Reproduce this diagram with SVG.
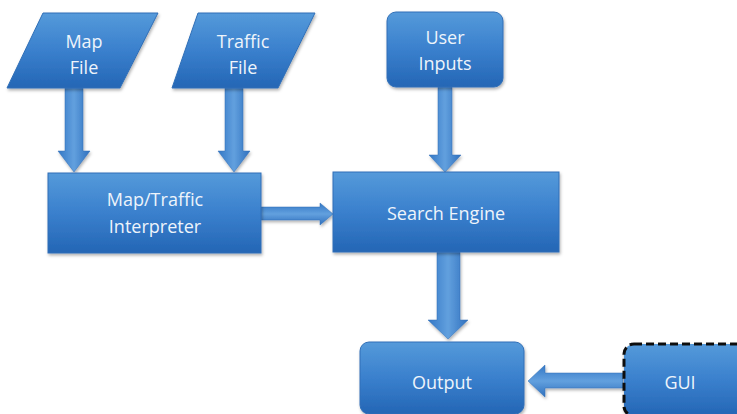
<svg xmlns="http://www.w3.org/2000/svg" width="737" height="414" viewBox="0 0 737 414">
<defs>
<linearGradient id="nodeFill" x1="0" y1="0" x2="0" y2="1">
<stop offset="0" stop-color="#559ada"/>
<stop offset="0.5" stop-color="#3a80cd"/>
<stop offset="1" stop-color="#2466b5"/>
</linearGradient>
<linearGradient id="vArrow" x1="0" y1="0" x2="1" y2="0">
<stop offset="0" stop-color="#3478c6"/>
<stop offset="0.5" stop-color="#62a0de"/>
<stop offset="1" stop-color="#2f70be"/>
</linearGradient>
<linearGradient id="hArrow" x1="0" y1="0" x2="0" y2="1">
<stop offset="0" stop-color="#3478c6"/>
<stop offset="0.5" stop-color="#62a0de"/>
<stop offset="1" stop-color="#2f70be"/>
</linearGradient>
<filter id="shadow" x="-10%" y="-10%" width="125%" height="130%">
<feDropShadow dx="1" dy="2" stdDeviation="1.5" flood-color="#000" flood-opacity="0.3"/>
</filter>
</defs>
<style>
.node{fill:url(#nodeFill);stroke:#306fb7;stroke-width:1;filter:url(#shadow)}
.dashed{fill:url(#nodeFill);stroke:#111;stroke-width:3;stroke-dasharray:8 4;filter:url(#shadow)}
.lbl{font-family:"Open Sans","Liberation Sans",sans-serif;font-size:18px;fill:#eef4fb;text-anchor:middle}
.va{fill:url(#vArrow);stroke:#306fb7;stroke-width:0.5;filter:url(#shadow)}
.ha{fill:url(#hArrow);stroke:#306fb7;stroke-width:0.5;filter:url(#shadow)}
</style>
<rect width="737" height="414" fill="#ffffff"/>
<g id="connectors">
<path class="va" d="M65,88 H83 V151 H90 L74,172 L58,151 H65 Z"/>
<path class="va" d="M225,88 H243 V151 H250 L234,172 L218,151 H225 Z"/>
<path class="va" d="M438,87 H452 V155 H461 L445,172 L429,155 H438 Z"/>
<path class="ha" d="M261,207 H320 V203 L333,214 L320,225 V220 H261 Z"/>
<path class="va" d="M437,252 H460 V320 H468 L448,339 L428,320 H437 Z"/>
<path class="ha" d="M623,373 H545 V365 L528,381 L545,397 V388 H623 Z"/>
</g>
<g id="map-file">
<polygon class="node" points="43,13 158,13 120,88 7,88"/>
<text class="lbl" x="84" y="48">Map</text>
<text class="lbl" x="84" y="74">File</text>
</g>
<g id="traffic-file">
<polygon class="node" points="198,13 315,13 278,88 172,88"/>
<text class="lbl" x="243" y="48">Traffic</text>
<text class="lbl" x="243" y="74">File</text>
</g>
<g id="user-inputs">
<rect class="node" x="387" y="12" width="116" height="75" rx="9"/>
<text class="lbl" x="445" y="44">User</text>
<text class="lbl" x="445" y="70">Inputs</text>
</g>
<g id="interpreter">
<rect class="node" x="48" y="173" width="213" height="80"/>
<text class="lbl" x="155" y="206">Map/Traffic</text>
<text class="lbl" x="155" y="233">Interpreter</text>
</g>
<g id="search-engine">
<rect class="node" x="333" y="172" width="226" height="80"/>
<text class="lbl" x="446" y="220">Search Engine</text>
</g>
<g id="output">
<rect class="node" x="360" y="342" width="164" height="72" rx="9"/>
<text class="lbl" x="442" y="389">Output</text>
</g>
<g id="gui">
<rect class="dashed" x="624" y="344" width="125" height="72" rx="10"/>
<text class="lbl" x="680" y="389">GUI</text>
</g>
</svg>
